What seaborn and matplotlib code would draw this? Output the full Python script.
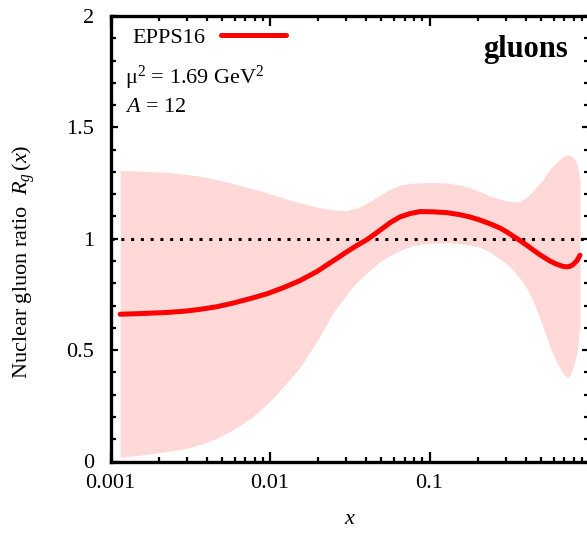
import matplotlib
matplotlib.use("Agg")
import matplotlib.pyplot as plt
import numpy as np
import pandas as pd
import seaborn as sns
from matplotlib.ticker import LogLocator, MultipleLocator, NullFormatter

# EPPS16 nuclear modification of the gluon PDF, carbon (A = 12), mu^2 = 1.69 GeV^2
x_vals = [0.00115, 0.00153, 0.00226, 0.00293, 0.00364, 0.00465, 0.00586, 0.00749,
          0.00958, 0.0121, 0.0154, 0.0197, 0.0248, 0.0304, 0.0351, 0.0406,
          0.0489, 0.0566, 0.0653, 0.0754, 0.0872, 0.105, 0.129, 0.155,
          0.179, 0.207, 0.240, 0.277, 0.306, 0.334, 0.369, 0.409,
          0.446, 0.493, 0.530, 0.569, 0.630, 0.687, 0.728, 0.760,
          0.794, 0.841, 0.878]
r_central = [0.661, 0.664, 0.669, 0.675, 0.683, 0.695, 0.711, 0.731,
             0.753, 0.780, 0.812, 0.853, 0.900, 0.942, 0.970, 0.996,
             1.038, 1.072, 1.098, 1.113, 1.122, 1.121, 1.117, 1.108,
             1.098, 1.084, 1.067, 1.048, 1.030, 1.012, 0.992, 0.970,
             0.950, 0.928, 0.914, 0.900, 0.885, 0.876, 0.874, 0.876,
             0.884, 0.902, 0.926]
r_upper = [1.306, 1.304, 1.298, 1.290, 1.281, 1.266, 1.248, 1.228,
           1.206, 1.183, 1.161, 1.142, 1.130, 1.127, 1.138, 1.160,
           1.196, 1.222, 1.241, 1.248, 1.251, 1.252, 1.250, 1.242,
           1.230, 1.212, 1.192, 1.178, 1.170, 1.166, 1.168, 1.188,
           1.215, 1.250, 1.280, 1.313, 1.345, 1.368, 1.376, 1.375,
           1.367, 1.338, 1.260]
r_lower = [0.020, 0.028, 0.045, 0.058, 0.076, 0.105, 0.142, 0.192,
           0.257, 0.335, 0.422, 0.540, 0.667, 0.752, 0.805, 0.847,
           0.897, 0.925, 0.947, 0.965, 0.976, 0.980, 0.982, 0.978,
           0.972, 0.962, 0.940, 0.908, 0.885, 0.860, 0.822, 0.775,
           0.722, 0.640, 0.580, 0.515, 0.442, 0.395, 0.377, 0.385,
           0.420, 0.490, 0.615]

x_ticks = [0.001, 0.01, 0.1]
x_ticklabels = ["0.001", "0.01", "0.1"]
y_ticks = [0, 0.5, 1, 1.5, 2]
y_ticklabels = ["0", "0.5", "1", "1.5", "2"]

df = pd.DataFrame({"x": x_vals, "central": r_central,
                   "upper": r_upper, "lower": r_lower})

sns.set_theme(style="ticks")
plt.rcParams.update({
    "font.family": ["Liberation Serif", "DejaVu Serif"],
    "mathtext.fontset": "custom",
    "mathtext.rm": "Liberation Serif",
    "mathtext.it": "Liberation Serif:italic",
    "mathtext.bf": "Liberation Serif:bold",
    "axes.linewidth": 2.4,
    "axes.edgecolor": "black",
    "text.color": "black",
    "axes.labelcolor": "black",
    "xtick.color": "black",
    "ytick.color": "black",
})

W, H = 587, 534
fig = plt.figure(figsize=(W / 100, H / 100), dpi=100)
ax_l, ax_r, ax_t, ax_b = 110.5, 589.0, 16.0, 461.5
ax = fig.add_axes([ax_l / W, (H - ax_b) / H, (ax_r - ax_l) / W, (ax_b - ax_t) / H])

def axpos(px, py):
    return (px - ax_l) / (ax_r - ax_l), (ax_b - py) / (ax_b - ax_t)

# uncertainty band
ax.fill_between(df["x"], df["lower"], df["upper"], color="#ffd8d8",
                linewidth=0, zorder=1)
# unity reference
ax.axhline(1.0, color="black", linestyle=(0, (1, 2.2)), linewidth=2.2, zorder=2)
# central fit
sns.lineplot(data=df, x="x", y="central", color="#ff0000", linewidth=3.6,
             ax=ax, label="EPPS16", zorder=3)

ax.set_xscale("log")
ax.set_xlim(0.001, 1.0)
ax.set_ylim(0, 2)
ax.set_xticks(x_ticks, labels=x_ticklabels)
ax.xaxis.set_minor_locator(LogLocator(base=10, subs=np.arange(2, 10)))
ax.xaxis.set_minor_formatter(NullFormatter())
ax.set_yticks(y_ticks, labels=y_ticklabels)
ax.yaxis.set_minor_locator(MultipleLocator(0.1))

ax.tick_params(which="both", direction="in", top=True, right=True,
               width=1.6, labelsize=16)
ax.tick_params(axis="x", which="major", length=7, pad=9)
ax.tick_params(axis="x", which="minor", length=3.5)
ax.tick_params(axis="y", which="major", length=5, pad=12)
ax.tick_params(axis="y", which="minor", length=3.5)

ax.set_xlabel("$x$", fontsize=16)
ax.set_ylabel("Nuclear gluon ratio  $R_g\\,(x)$", fontsize=16)
ax.xaxis.set_label_coords(0.5, axpos(0, 510)[1])
ax.yaxis.set_label_coords(axpos(37, 0)[0], axpos(0, 262)[1])

leg = ax.legend(loc="upper left", bbox_to_anchor=axpos(132.7, 27),
                frameon=False, markerfirst=False, handlelength=2.9,
                handletextpad=0.7, borderpad=0, borderaxespad=0, fontsize=16)

ax.text(*axpos(125, 83.3), "μ$^{2}$ = 1.69 GeV$^{2}$", transform=ax.transAxes,
        ha="left", va="baseline", fontsize=16)
ax.text(*axpos(125, 111.7), "$A$ = 12", transform=ax.transAxes,
        ha="left", va="baseline", fontsize=16)
ax.text(*axpos(568.3, 56.7), "gluons", transform=ax.transAxes,
        ha="right", va="baseline", fontsize=22, fontweight="bold")

fig.savefig("out.png", dpi=100)
